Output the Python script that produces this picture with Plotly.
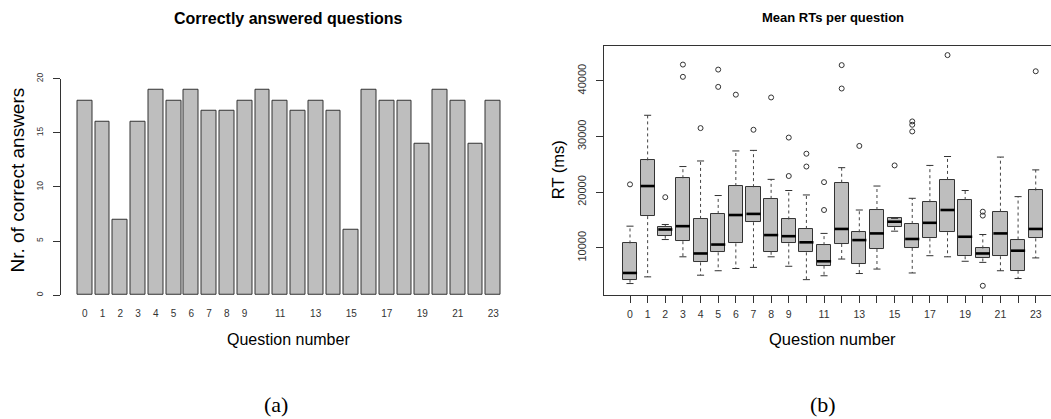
import plotly.graph_objects as go

W, H = 1051, 419

questions = list(range(24))
correct_answers = [18, 16, 7, 16, 19, 18, 19, 17, 17, 18, 19, 18,
                   17, 18, 17, 6, 19, 18, 18, 14, 19, 18, 14, 18]

rt_lower = [3600, 4800, 11500, 8400, 5100, 5900, 6300, 6500, 8400, 6700, 4300, 5000,
            8000, 5400, 6200, 13000, 5500, 8600, 8400, 7600, 7400, 5900, 4500, 8200]
rt_q1 = [4300, 15700, 12200, 11200, 7400, 9200, 10800, 14600, 9300, 10800, 9200, 6800,
         10700, 7100, 9800, 13700, 10000, 11700, 12800, 8500, 8100, 8500, 5900, 11700]
rt_median = [5500, 21100, 13300, 13900, 9000, 10600, 15900, 16100, 12300, 12100, 11000, 7600,
             13400, 11400, 12600, 14700, 11600, 14500, 16800, 12000, 9000, 12600, 9500, 13400]
rt_q3 = [10800, 25700, 13800, 22500, 15200, 16100, 21100, 20900, 18800, 15100, 13400, 10500,
         21700, 12800, 16800, 15300, 14300, 18200, 22200, 18600, 9900, 16500, 11500, 20300]
rt_upper = [13900, 33800, 14200, 24600, 25600, 19400, 27400, 27500, 22300, 20300, 19500, 12600,
            24400, 16800, 21100, 15300, 18900, 24800, 26400, 20300, 12400, 26300, 19200, 24000]
rt_outliers = [[21400], [], [19100], [42900, 40700], [31500], [42000, 38900], [37500], [31200],
               [37000], [29800, 22900], [26900, 24600], [21800, 16800], [42800, 38600], [28300],
               [], [24800], [32700, 32100, 30900], [], [44600], [], [16500, 15800, 3200], [],
               [], [41700]]

x_labels_left = ["0", "1", "2", "3", "4", "5", "6", "7", "8", "9", "", "11", "",
                 "13", "", "15", "", "17", "", "19", "", "21", "", "23"]
x_labels_right = x_labels_left
y_ticks_left = [0, 5, 10, 15, 20]
y_ticks_right = [10000, 20000, 30000, 40000]

FILL = "#BEBEBE"
EDGE = "#333333"
FONT = "Liberation Sans, Arial, sans-serif"


def px_x(p):
    return p / W


def px_y(p):
    return (H - p) / H


fig = go.Figure()

# ---- left: bar chart
fig.add_trace(go.Bar(
    x=questions, y=correct_answers, width=0.833,
    marker=dict(color=FILL, line=dict(color=EDGE, width=1)),
    xaxis="x", yaxis="y", showlegend=False, hoverinfo="x+y"))

# ---- right: box plot drawn from statistics
box_w = 0.8
cap_half = 0.2
fig.add_trace(go.Bar(
    x=questions, base=rt_q1, y=[q3 - q1 for q1, q3 in zip(rt_q1, rt_q3)], width=box_w,
    marker=dict(color=FILL, line=dict(color=EDGE, width=1)),
    xaxis="x2", yaxis="y2", showlegend=False, hoverinfo="skip"))

wx, wy = [], []
for q, lo, q1, q3, hi in zip(questions, rt_lower, rt_q1, rt_q3, rt_upper):
    wx += [q, q, None, q, q, None]
    wy += [q3, hi, None, q1, lo, None]
fig.add_trace(go.Scatter(x=wx, y=wy, mode="lines",
                         line=dict(color="#444444", width=1, dash="3px,3px"),
                         xaxis="x2", yaxis="y2", showlegend=False, hoverinfo="skip"))

cx, cy = [], []
for q, lo, hi in zip(questions, rt_lower, rt_upper):
    cx += [q - cap_half, q + cap_half, None, q - cap_half, q + cap_half, None]
    cy += [hi, hi, None, lo, lo, None]
fig.add_trace(go.Scatter(x=cx, y=cy, mode="lines",
                         line=dict(color=EDGE, width=1),
                         xaxis="x2", yaxis="y2", showlegend=False, hoverinfo="skip"))

mx, my = [], []
for q, m in zip(questions, rt_median):
    mx += [q - box_w / 2, q + box_w / 2, None]
    my += [m, m, None]
fig.add_trace(go.Scatter(x=mx, y=my, mode="lines",
                         line=dict(color="black", width=2.6),
                         xaxis="x2", yaxis="y2", showlegend=False, hoverinfo="skip"))

ox, oy = [], []
for q, outs in zip(questions, rt_outliers):
    for o in outs:
        ox.append(q)
        oy.append(o)
fig.add_trace(go.Scatter(x=ox, y=oy, mode="markers",
                         marker=dict(symbol="circle-open", size=5, color=EDGE,
                                     line=dict(width=1, color=EDGE)),
                         xaxis="x2", yaxis="y2", showlegend=False))

# ---- axes geometry (pixel based)
left_x0, left_x1 = 60.5, 517.5
bar_step = 17.76
bar0 = 84.8
right_x0 = 604
box_step = 17.64
box0 = 630.0

fig.update_layout(
    width=W, height=H, autosize=False,
    margin=dict(l=0, r=0, t=0, b=0),
    paper_bgcolor="white", plot_bgcolor="white",
    font=dict(family=FONT, color="black"),
    bargap=0,
    xaxis=dict(domain=[px_x(left_x0), px_x(left_x1)],
               range=[(left_x0 - bar0) / bar_step, (left_x1 - bar0) / bar_step],
               anchor="y", showgrid=False, zeroline=False, showline=False,
               tickmode="array", tickvals=questions, ticktext=x_labels_left,
               ticks="", tickfont=dict(size=10, color="#333333", family=FONT),
               ticklabelstandoff=11),
    yaxis=dict(domain=[px_y(294), px_y(74)], range=[0, 20],
               anchor="x", showgrid=False, zeroline=False,
               showline=True, linecolor=EDGE, linewidth=1,
               tickmode="array", tickvals=y_ticks_left,
               ticktext=[str(v) for v in y_ticks_left], ticks="outside",
               ticklen=7, tickcolor=EDGE, tickangle=-90,
               tickfont=dict(size=8.5, color="#333333", family=FONT),
               ticklabelstandoff=6),
    xaxis2=dict(domain=[px_x(right_x0), 1.0],
                range=[(right_x0 - box0) / box_step, (W - box0) / box_step],
                anchor="y2", showgrid=False, zeroline=False,
                showline=True, mirror=True, linecolor=EDGE, linewidth=1,
                tickmode="array", tickvals=questions, ticktext=x_labels_right,
                ticks="outside", ticklen=7, tickcolor=EDGE,
                tickfont=dict(size=10.5, color="#333333", family=FONT),
                ticklabelstandoff=2),
    yaxis2=dict(domain=[px_y(294), px_y(40.7)], range=[1530, 46230],
                anchor="x2", showgrid=False, zeroline=False,
                showline=True, linecolor=EDGE, linewidth=1,
                tickmode="array", tickvals=y_ticks_right,
                ticktext=[str(v) for v in y_ticks_right], ticks="outside",
                ticklen=7, tickcolor=EDGE, tickangle=-90,
                tickfont=dict(size=11, color="#333333", family=FONT),
                ticklabelstandoff=6),
)

annots = [
    dict(text="<b>Correctly answered questions</b>", x=px_x(288), y=px_y(13), size=16, angle=0, fam=FONT),
    dict(text="<b>Mean RTs per question</b>", x=px_x(832.5), y=px_y(12), size=13, angle=0, fam=FONT),
    dict(text="Nr. of correct answers", x=px_x(18), y=px_y(177.5), size=19, angle=-90, fam=FONT),
    dict(text="Question number", x=px_x(288), y=px_y(339), size=16, angle=0, fam=FONT),
    dict(text="RT (ms)", x=px_x(558), y=px_y(167), size=16.5, angle=-90, fam=FONT),
    dict(text="Question number", x=px_x(832), y=px_y(339), size=16.5, angle=0, fam=FONT),
    dict(text="(a)", x=px_x(276), y=px_y(405), size=22, angle=0, fam="Liberation Serif, Times New Roman, serif"),
    dict(text="(b)", x=px_x(823), y=px_y(405), size=22, angle=0, fam="Liberation Serif, Times New Roman, serif"),
]
for a in annots:
    fig.add_annotation(text=a["text"], x=a["x"], y=a["y"], xref="paper", yref="paper",
                       xanchor="center", yanchor="middle", showarrow=False,
                       textangle=a["angle"], font=dict(size=a["size"], family=a["fam"], color="black"))

fig.write_html("out.html")
